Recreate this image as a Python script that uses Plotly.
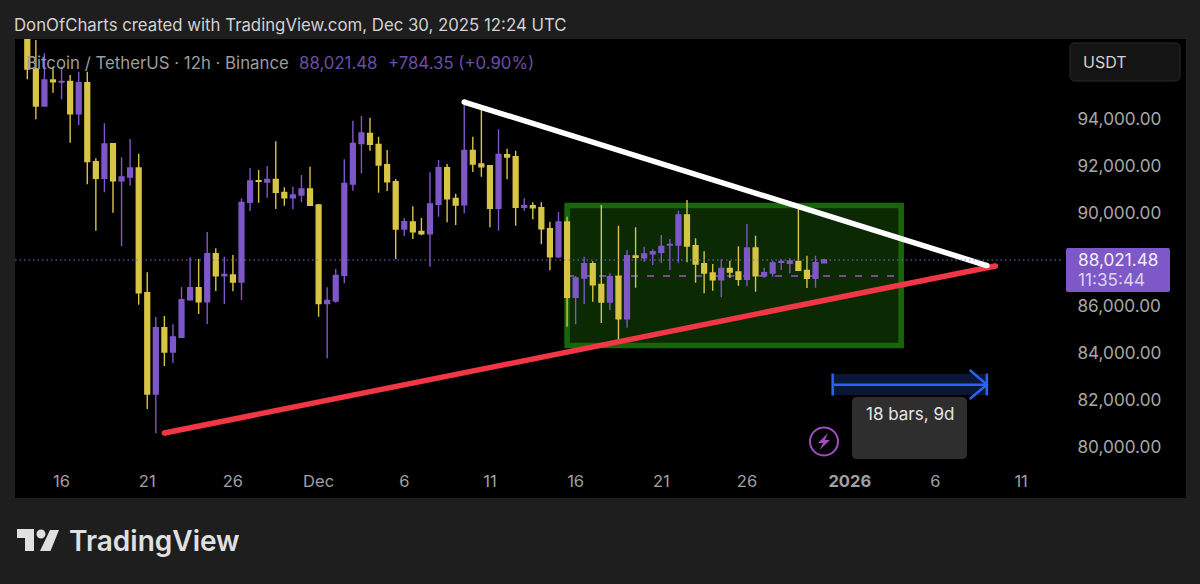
import pandas as pd
import plotly.graph_objects as go

W, H = 1200, 584
L, R, T, B = 15, 1062, 39, 465

start = pd.Timestamp("2025-11-14")
dates = pd.date_range(start, periods=94, freq="12h")

opens = [98000,96175,94595,95705,95620,95648,94268,95591,92219,91507,92987,91407,91564,91948,86626,82300,85132,84093,84720,86327,86840,86242,88291,87352,87380,87082,90483,91407,91350,91464,90909,
90682,90795,91052,90369,86157,86270,87366,91265,92995,93428,92958,92090,91365,89344,89643,89244,89145,90397,91962,90653,90383,92702,92119,92048,90226,92517,92432,90269,90340,90255,89358,88163,
89643,86427,87252,87864,86982,86228,87309,85516,88191,88120,88291,88348,88661,88661,89942,88633,87864,87466,87181,87665,87508,87195,88533,87352,87466,87921,87879,87964,87580,87238,87907]
highs = [98195,97413,96843,96274,96274,95918,96061,96061,92361,93855,92987,92404,93186,92560,87494,85588,85630,85274,86868,88134,88063,89216,88519,88163,88234,90653,91948,91863,92034,93087,91123,
91151,91649,92005,90411,86854,87636,92318,93969,94168,94097,93286,92717,91479,89814,90312,89814,91763,92290,92119,90853,94638,93286,94424,92048,93599,92774,92688,90653,90482,90482,89657,90070,
89871,87338,88163,87964,90369,87451,89486,88448,89415,88590,88476,89088,88917,90127,90582,88946,88391,87850,88049,87992,88604,89558,89059,87693,87992,88049,88092,90397,88206,88206,88080]
lows = [95733,94026,94560,95164,94880,93030,93784,91251,89273,90909,90041,88604,91194,86114,81660,80621,83496,83624,84720,86285,85716,85289,86697,86142,86683,86313,90113,90468,90682,90198,90340,
90184,90482,90354,85602,83823,86199,87025,90981,91721,92688,90895,90966,88063,89045,88917,89074,87736,89871,89629,89515,90013,91777,91578,89415,89273,91464,89486,90127,89757,88690,87580,88106,
85175,85274,86142,86242,85331,85886,84435,85132,86840,87950,87807,87893,87594,87907,87921,87053,86598,86711,86427,87252,86925,86897,86669,87267,87309,87594,87451,87580,86825,86840,87907]
closes = [96175,94595,95705,95634,95648,94268,95591,92219,91507,92973,91407,91564,91948,86626,82300,85132,84093,84734,86327,86840,86242,88291,87352,87409,87082,90483,91393,91379,91464,90909,90682,
90796,91052,90354,86157,86299,87366,91294,92995,93442,92958,92076,91365,89344,89657,89230,89145,90411,91962,90639,90369,92702,92119,92005,90226,92532,92418,90269,90340,90255,89358,88163,89643,
86427,87252,87864,86968,86228,87309,85516,88206,88134,88277,88376,88604,88690,89942,88618,87850,87466,87181,87665,87508,87195,88533,87352,87480,87893,87964,87978,87580,87238,87907,88021.48]

last_price = 88021.48
y_tick_values = [80000, 82000, 84000, 86000, 90000, 92000, 94000]
x_tick_dates = ["2025-11-16","2025-11-21","2025-11-26","2025-12-01","2025-12-06","2025-12-11",
                "2025-12-16","2025-12-21","2025-12-26","2026-01-01","2026-01-06","2026-01-11"]
x_tick_text = ["16","21","26","Dec","6","11","16","21","26","<b>2026</b>","6","11"]

resistance_x = ["2025-12-09 12:00", "2026-01-09 00:00"]
resistance_y = [94766, 87786]
support_x = ["2025-11-22 00:00", "2026-01-09 12:00"]
support_y = [80636, 87765]
box_x = ["2025-12-15 12:00", "2026-01-04 00:00"]
box_y = [84371, 90348]
box_mid = 87338
span_x = ["2025-12-31 00:00", "2026-01-09 00:00"]
span_head_x = "2026-01-08 00:00"
span_y = [82258, 82700, 83154]
span_head_y = [82087, 83325]

FONT = "Inter"
YEL, PUR = "#d8c445", "#7e57c8"


def px(x):
    return (x - L) / (R - L)


def py(y):
    return (B - y) / (B - T)


def rr(x0, y0, x1, y1, r):
    p = [("M", x0 + r, y0), ("L", x1 - r, y0), ("Q", x1, y0, x1, y0 + r), ("L", x1, y1 - r),
         ("Q", x1, y1, x1 - r, y1), ("L", x0 + r, y1), ("Q", x0, y1, x0, y1 - r), ("L", x0, y0 + r),
         ("Q", x0, y0, x0 + r, y0)]
    out = ""
    for seg in p:
        c = seg[0]
        v = seg[1:]
        out += c + " " + " ".join(f"{px(v[i]):.5f},{py(v[i+1]):.5f}" for i in range(0, len(v), 2)) + " "
    return out + "Z"


def poly(pts):
    return "M " + " L ".join(f"{px(a):.5f},{py(b):.5f}" for a, b in pts) + " Z"


def pshape(path, fill, line=None, lw=0, layer="above"):
    return dict(type="path", xref="paper", yref="paper", path=path, fillcolor=fill,
                line=dict(color=line or fill, width=lw), layer=layer)


def note(x, y, text, color, size, anchor="left", weight=None, family=FONT):
    return dict(xref="paper", yref="paper", x=px(x), y=py(y), text=text, showarrow=False,
                xanchor=anchor, yanchor="middle", xshift=0, borderpad=0, borderwidth=0,
                font=dict(color=color, size=size, family=family, weight=weight))


fig = go.Figure()
fig.add_candlestick(x=dates, open=opens, high=highs, low=lows, close=closes,
                    increasing=dict(line=dict(color=PUR, width=1.4), fillcolor=PUR),
                    decreasing=dict(line=dict(color=YEL, width=1.4), fillcolor=YEL),
                    whiskerwidth=0, hoverinfo="skip", showlegend=False)
fig.add_scatter(x=support_x, y=support_y, mode="lines+markers",
                line=dict(color="#f23645", width=5.5), marker=dict(color="#f23645", size=5.5),
                hoverinfo="skip", showlegend=False)
fig.add_scatter(x=resistance_x, y=resistance_y, mode="lines+markers",
                line=dict(color="#ffffff", width=5.5), marker=dict(color="#ffffff", size=5.5),
                hoverinfo="skip", showlegend=False)
BLUE = "#2962ff"
fig.add_scatter(x=span_x[:1] * 2, y=[span_head_y[0] + 150, span_head_y[1] - 150], mode="lines",
                line=dict(color=BLUE, width=2.5), hoverinfo="skip", showlegend=False)
fig.add_scatter(x=span_x[1:] * 2, y=[span_head_y[0] + 150, span_head_y[1] - 150], mode="lines",
                line=dict(color=BLUE, width=2.5), hoverinfo="skip", showlegend=False)
fig.add_scatter(x=span_x, y=[span_y[1]] * 2, mode="lines",
                line=dict(color=BLUE, width=2.5), hoverinfo="skip", showlegend=False)
fig.add_scatter(x=[span_head_x, span_x[1], span_head_x], y=[span_head_y[1], span_y[1], span_head_y[0]], mode="lines",
                line=dict(color=BLUE, width=2.5), hoverinfo="skip", showlegend=False)

shapes = [
    pshape(rr(15, 39, 1186, 498, 0.1), "#000000", layer="below"),
    dict(type="rect", xref="x", yref="y", x0=box_x[0], x1=box_x[1], y0=box_y[0], y1=box_y[1],
         fillcolor="#0b2a04", line=dict(color="#17660a", width=5.5), layer="below"),
    dict(type="line", xref="x", yref="y", x0=box_x[0], x1=box_x[1], y0=box_mid, y1=box_mid,
         line=dict(color="#74489a", width=2.2, dash="7px,9px"), layer="below"),
    dict(type="rect", xref="x", yref="y", x0=span_x[0], x1=span_x[1], y0=span_y[0], y1=span_y[2],
         fillcolor="#0b1636", line=dict(width=0), layer="below"),
    dict(type="line", xref="paper", yref="y", x0=0, x1=1, y0=last_price, y1=last_price,
         line=dict(color="#8a68d0", width=1.2, dash="1.5px,3px"), layer="above"),
    pshape(rr(1066, 248, 1170, 292, 2), "#7e57c8"),
    pshape(rr(852, 397, 967, 459, 5), "#2e2e2e"),
    pshape(rr(1070, 43, 1180, 81, 5), "#141414", line="#2a2a2a", lw=1),
    dict(type="circle", xref="paper", yref="paper", x0=px(810), x1=px(838), y0=py(455.5), y1=py(427.5),
         fillcolor="rgba(0,0,0,0)", line=dict(color="#a24cc0", width=2)),
    pshape(poly([(828, 433), (818, 443), (823, 443), (819.5, 450), (830, 440), (825, 440)]), "#a24cc0"),
    pshape(poly([(17, 529), (34, 529), (34, 551), (25, 551), (25, 538), (17, 538)]), "#e0e0e0"),
    dict(type="circle", xref="paper", yref="paper", x0=px(36.5), x1=px(45.5), y0=py(538.5), y1=py(529.5),
         fillcolor="#e0e0e0", line=dict(width=0)),
    pshape(poly([(50, 530), (59, 530), (50.5, 551), (40, 551)]), "#e0e0e0"),
]

annotations = [
    note(14, 25, "DonOfCharts created with TradingView.com, Dec 30, 2025 12:24 UTC", "#d2d2d2", 16.8),
    note(26, 63, "Bitcoin / TetherUS · 12h · Binance", "#9c9c9c", 16.8),
    note(299, 63, "88,021.48", "#6a4fa8", 16.8),
    note(388, 63, "+784.35 (+0.90%)", "#6a4fa8", 16.8),
    note(1078, 259, "88,021.48", "#f2eefa", 17.2),
    note(1078, 279, "11:35:44", "#dcd2f0", 17.2),
    note(1083, 62, "USDT", "#d2d2d2", 16),
    note(909.5, 414, "18 bars, 9d", "#e6e6e6", 17, anchor="center"),
    note(69, 541, "TradingView", "#e0e0e0", 28, weight=600),
]


def at(i):
    return start + pd.Timedelta(hours=12) * i


fig.update_layout(
    width=W, height=H, autosize=False,
    margin=dict(l=L, r=W - R, t=T, b=H - B, pad=0),
    paper_bgcolor="#1e1e1e", plot_bgcolor="#000000",
    boxgap=0.2, showlegend=False,
    shapes=shapes, annotations=annotations,
    xaxis=dict(type="date", range=[at(-1.436), at(120.77)], rangeslider=dict(visible=False),
               tickmode="array", tickvals=x_tick_dates, ticktext=x_tick_text, showgrid=False,
               zeroline=False, showline=False, ticks="outside", ticklen=1, tickcolor="#000000",
               tickfont=dict(color="#a0a0a0", size=16.5, family=FONT)),
    yaxis=dict(side="right", range=[79270, 97456], tickmode="array", tickvals=y_tick_values,
               tickformat=",.2f", showgrid=False, zeroline=False, showline=False, ticks="outside",
               ticklen=11, tickcolor="#000000", ticklabelshift=-1,
               tickfont=dict(color="#a8a8a8", size=17.2, family=FONT)),
)
fig.write_html("out.html", config=dict(displayModeBar=False),
               post_script="document.body.style.margin='0';document.body.style.overflow='hidden';")
